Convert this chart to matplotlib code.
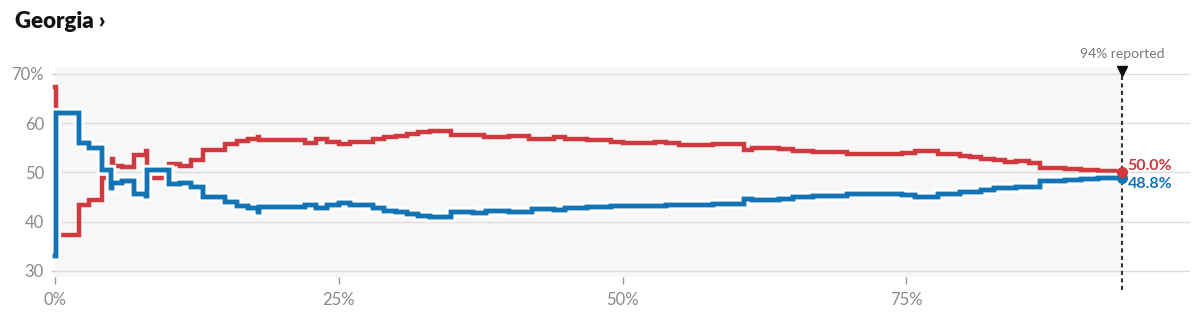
import numpy as np
import matplotlib.pyplot as plt
from matplotlib import patheffects

# share of expected vote counted (%) and candidate share (%) at each update
red_x = [0.0, 0.1, 2.1, 3.0, 4.1, 5.0, 5.1, 5.9, 7.0, 8.0, 8.1, 10.0, 11.0, 12.0,
         13.0, 15.0, 16.0, 17.0, 17.9, 18.0, 22.0, 23.0, 24.0, 25.0, 26.0, 28.0,
         29.0, 30.0, 31.0, 32.0, 33.0, 34.9, 37.8, 40.0, 41.8, 44.0, 44.9, 46.9,
         49.0, 50.0, 52.9, 53.8, 55.0, 58.0, 60.7, 61.4, 63.8, 65.0, 66.8, 69.8,
         74.6, 75.8, 77.8, 79.7, 80.6, 81.6, 82.7, 83.7, 84.7, 85.8, 86.8, 89.0,
         90.4, 91.9, 93.4, 94.0]
red_y = [67.4, 37.3, 43.4, 44.4, 48.9, 52.7, 51.4, 51.1, 53.6, 54.3, 48.9, 51.8,
         51.4, 52.6, 54.6, 55.7, 56.3, 56.8, 57.3, 56.5, 56.0, 56.8, 56.1, 55.7,
         56.1, 56.8, 57.2, 57.5, 57.9, 58.2, 58.4, 57.7, 57.2, 57.5, 56.9, 57.3,
         56.8, 56.5, 56.1, 55.9, 56.1, 55.9, 55.6, 55.8, 54.6, 54.9, 54.7, 54.4,
         54.2, 53.7, 54.0, 54.3, 53.8, 53.4, 53.2, 52.8, 52.5, 52.2, 52.4, 52.0,
         51.0, 50.8, 50.5, 50.3, 50.0, 50.0]

blue_x = [0.0, 0.1, 2.1, 3.0, 4.1, 4.9, 5.0, 5.9, 7.0, 8.0, 8.1, 10.0, 11.0, 12.0,
          13.0, 15.0, 16.0, 17.0, 17.9, 18.0, 22.0, 23.0, 24.0, 25.0, 26.0, 28.0,
          29.0, 30.0, 31.0, 32.0, 33.0, 34.9, 36.8, 38.0, 40.0, 42.0, 44.0, 44.9,
          46.9, 49.0, 52.9, 53.8, 58.0, 60.7, 61.4, 63.8, 65.0, 66.8, 69.8, 74.6,
          75.8, 77.8, 79.7, 81.6, 82.7, 84.7, 86.8, 89.0, 90.4, 91.9, 94.0]
blue_y = [33.1, 62.1, 56.0, 55.0, 50.6, 46.9, 47.9, 48.2, 45.6, 45.3, 50.6, 47.6,
          47.9, 47.1, 45.1, 44.0, 43.2, 42.7, 42.0, 42.9, 43.3, 42.7, 43.3, 43.9,
          43.3, 42.7, 42.2, 41.9, 41.5, 41.2, 41.0, 42.0, 41.8, 42.2, 41.9, 42.6,
          42.3, 42.7, 43.0, 43.2, 43.1, 43.3, 43.6, 44.6, 44.4, 44.7, 45.0, 45.2,
          45.7, 45.4, 45.0, 45.7, 46.0, 46.4, 46.8, 47.0, 48.2, 48.4, 48.6, 48.8,
          48.8]

reported = 94
red_final = 50.0
blue_final = 48.8

y_ticks = [30, 40, 50, 60, 70]
y_labels = ['30', '40', '50', '60', '70%']
x_ticks = [0, 25, 50, 75]
x_labels = ['0%', '25%', '50%', '75%']

RED = '#d0393e'
BLUE = '#1273b5'
FONT = ['Lato', 'DejaVu Sans']

fig = plt.figure(figsize=(12, 3.31), dpi=100)
ax = fig.add_axes([55 / 1200, 1 - 277 / 331, 1135 / 1200, 210 / 331])
ax.set_xlim(0, 100)
ax.set_ylim(28.78, 71.42)

# light panel only covers the counted part of the race
ax.axvspan(0, reported, color='#f7f7f7', lw=0, zorder=0)
for v in y_ticks:
    ax.axhline(v, color='#dddddd', lw=1, zorder=1)

ax.plot(red_x, red_y, drawstyle='steps-post', color=RED, lw=3.2,
        solid_joinstyle='miter', zorder=3, clip_on=False)
ax.plot(blue_x, blue_y, drawstyle='steps-post', color=BLUE, lw=3.2,
        solid_joinstyle='miter', zorder=4, clip_on=False,
        path_effects=[patheffects.withStroke(linewidth=7.5, foreground='white'),
                      patheffects.Normal()])

# reported marker
ax.plot([reported, reported], [28.78 - 2.6, 70.6], color='#333333', lw=1.5,
        ls=(0, (2, 1.6)), zorder=5, clip_on=False)
ax.plot(reported, 70.6, marker='v', color='#111111', ms=7.5, zorder=6, clip_on=False)
ax.text(reported, 74.0, f'{reported}% reported', ha='center', va='center',
        fontsize=10, color='#777777', family=FONT)

ax.plot(reported, blue_final, 'o', color=BLUE, ms=7, zorder=7, clip_on=False)
ax.plot(reported, red_final, 'o', color=RED, ms=7, zorder=8, clip_on=False)
ax.annotate(f'{red_final:.1f}%', (reported, red_final), xytext=(4, 5),
            textcoords='offset points', va='center', ha='left', fontsize=11.5,
            fontweight='bold', color=RED, family=FONT)
ax.annotate(f'{blue_final:.1f}%', (reported, blue_final), xytext=(4, -4),
            textcoords='offset points', va='center', ha='left', fontsize=11.5,
            fontweight='bold', color=BLUE, family=FONT)

ax.set_yticks(y_ticks)
ax.set_yticklabels(y_labels, family=FONT, fontsize=12, color='#8a8a8a')
ax.set_xticks(x_ticks)
ax.set_xticklabels(x_labels, family=FONT, fontsize=12, color='#8a8a8a')
ax.tick_params(axis='y', length=3, width=1, color='#cccccc', pad=5)
ax.tick_params(axis='x', length=5, width=1, color='#999999', pad=6)
for s in ax.spines.values():
    s.set_visible(False)
ax.set_facecolor('white')

fig.text(15 / 1200, 1 - 22 / 331, 'Georgia \u203a', ha='left', va='center',
         fontsize=16, fontweight='heavy', color='#121212', family=FONT)

fig.savefig('out.png', dpi=100)
